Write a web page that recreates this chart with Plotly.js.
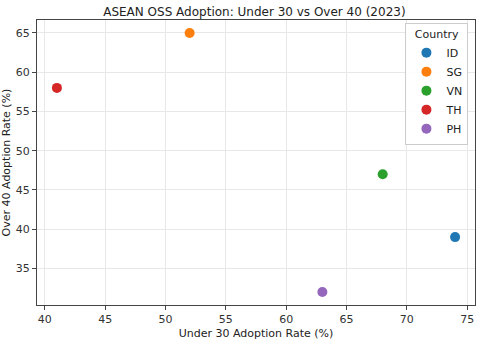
<!DOCTYPE html>
<html lang="en">
<head>
    <meta charset="UTF-8">
    <title>ASEAN OSS Adoption</title>
    <script src="https://cdn.plot.ly/plotly-3.0.1.min.js"></script>
    <style>
        body { margin: 0; padding: 0; background: white; }
        #plot { width: 480px; height: 340px; }
    </style>
</head>
<body>
    <div id="plot"></div>
    <script>
        const countries = ['ID', 'SG', 'VN', 'TH', 'PH'];
        const under30 = [74, 52, 68, 41, 63];
        const over40 = [39, 65, 47, 58, 32];
        const colors = ['#1f77b4', '#ff7f0e', '#2ca02c', '#d62728', '#9467bd'];

        const traces = countries.map((c, i) => ({
            x: [under30[i]],
            y: [over40[i]],
            type: 'scatter',
            mode: 'markers',
            name: c,
            marker: { color: colors[i], size: 10 }
        }));

        const axisStyle = {
            showgrid: true,
            gridcolor: '#e8e8e8',
            zeroline: false,
            showline: true,
            linecolor: '#444',
            linewidth: 1,
            mirror: true,
            ticks: 'outside',
            ticklen: 4,
            tickcolor: '#444',
            tickfont: { size: 11, color: '#333' }
        };

        const layout = {
            width: 480,
            height: 340,
            font: { family: 'DejaVu Sans, sans-serif', color: '#222' },
            title: {
                text: 'ASEAN OSS Adoption: Under 30 vs Over 40 (2023)',
                font: { size: 12 },
                x: 0.53, xanchor: 'center', y: 0.965, yanchor: 'middle'
            },
            xaxis: Object.assign({}, axisStyle, {
                range: [39.35, 75.65],
                dtick: 5,
                title: { text: 'Under 30 Adoption Rate (%)', font: { size: 11 }, standoff: 4 }
            }),
            yaxis: Object.assign({}, axisStyle, {
                range: [30.35, 66.65],
                dtick: 5,
                title: { text: 'Over 40 Adoption Rate (%)', font: { size: 11 }, standoff: 6 }
            }),
            showlegend: true,
            legend: {
                title: { text: 'Country', side: 'top center', font: { size: 11 } },
                x: 0.985, xanchor: 'right', y: 0.99, yanchor: 'top',
                bgcolor: 'rgba(255,255,255,0.9)',
                bordercolor: '#ccc', borderwidth: 1,
                font: { size: 11 },
                itemwidth: 30
            },
            plot_bgcolor: 'white',
            paper_bgcolor: 'white',
            margin: { t: 20, r: 5, b: 35, l: 37 }
        };

        Plotly.newPlot('plot', traces, layout, { displayModeBar: false });
    </script>
</body>
</html>
